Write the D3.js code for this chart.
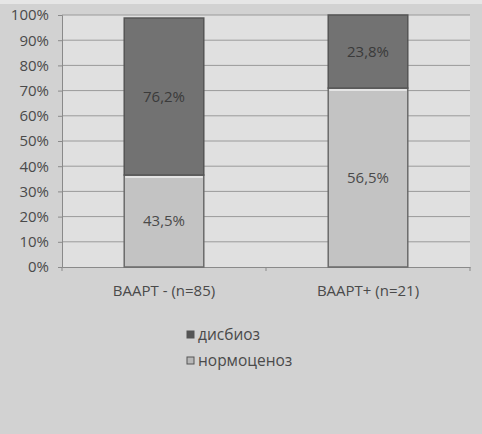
<!DOCTYPE html>
<html lang="ru">
<head>
<meta charset="UTF-8">
<title>ВААРТ</title>
<style>
  body { margin: 0; background: #d2d2d2; }
  svg text { font-family: "Open Sans", "DejaVu Sans", sans-serif; }
</style>
</head>
<body>
<div class="chart"></div>
<script src="https://cdnjs.cloudflare.com/ajax/libs/d3/7.8.5/d3.min.js"></script>
<script>
  // data (bar heights as drawn, labels as printed)
  const categories = ['ВААРТ - (n=85)', 'ВААРТ+ (n=21)'];
  const normValues = [36.5, 71];
  const dysValues = [62.3, 29];
  const normLabels = ['43,5%', '56,5%'];
  const dysLabels = ['76,2%', '23,8%'];
  const yTicks = [0, 10, 20, 30, 40, 50, 60, 70, 80, 90, 100];
  const seriesNames = ['дисбиоз', 'нормоценоз'];

  const W = 482, H = 434;
  const m = {top: 15, left: 62, right: 12, bottom: 167};
  const iw = W - m.left - m.right, ih = H - m.top - m.bottom;

  const svg = d3.select('.chart').append('svg')
    .attr('width', W).attr('height', H);

  svg.append('rect').attr('width', W).attr('height', H).attr('fill', '#d2d2d2');
  svg.append('rect').attr('width', W).attr('height', 4).attr('fill', '#e6e6e6');

  const g = svg.append('g').attr('transform', `translate(${m.left},${m.top})`);

  const x = d3.scaleBand().domain(categories).range([0, iw]).paddingInner(0.61).paddingOuter(0.305);
  const y = d3.scaleLinear().domain([0, 100]).range([ih, 0]);

  g.append('rect').attr('width', iw).attr('height', ih).attr('fill', '#e0e0e0');

  // gridlines
  g.selectAll('.grid').data(yTicks.slice(1)).join('line')
    .attr('x1', 0).attr('x2', iw)
    .attr('y1', d => y(d)).attr('y2', d => y(d))
    .attr('stroke', '#9a9a9a').attr('stroke-width', 1);

  // y axis
  const yAxis = g.append('g').call(d3.axisLeft(y).tickValues(yTicks).tickFormat(d => d + '%').tickSize(4).tickPadding(9));
  yAxis.select('.domain').attr('stroke', '#8a8a8a');
  yAxis.selectAll('line').attr('stroke', '#8a8a8a');
  yAxis.selectAll('text').attr('fill', '#4a4a4a').style('font-size', '15px');

  // x axis
  const xAxis = g.append('g').attr('transform', `translate(0,${ih})`)
    .call(d3.axisBottom(x).tickSize(0).tickPadding(18));
  xAxis.select('.domain').attr('stroke', '#8a8a8a');
  xAxis.selectAll('text').attr('fill', '#4a4a4a').style('font-size', '15px');
  const bounds = [0, iw / 2, iw];
  g.selectAll('.xt').data(bounds).join('line')
    .attr('x1', d => d).attr('x2', d => d)
    .attr('y1', ih).attr('y2', ih + 4)
    .attr('stroke', '#8a8a8a');

  // bars
  const bw = x.bandwidth();
  g.selectAll('.norm').data(categories).join('rect')
    .attr('x', d => x(d)).attr('width', bw)
    .attr('y', (d, i) => y(normValues[i]))
    .attr('height', (d, i) => y(0) - y(normValues[i]))
    .attr('fill', '#c3c3c3').attr('stroke', '#6a6a6a').attr('stroke-width', 1.5);

  g.selectAll('.dys').data(categories).join('rect')
    .attr('x', d => x(d)).attr('width', bw)
    .attr('y', (d, i) => y(normValues[i] + dysValues[i]))
    .attr('height', (d, i) => y(0) - y(dysValues[i]))
    .attr('fill', '#727272').attr('stroke', '#555').attr('stroke-width', 1.5);

  // highlight line at top of light segments
  g.selectAll('.hl').data(categories).join('line')
    .attr('x1', d => x(d) + 1).attr('x2', d => x(d) + bw - 1)
    .attr('y1', (d, i) => y(normValues[i]) + 2).attr('y2', (d, i) => y(normValues[i]) + 2)
    .attr('stroke', '#e4e4e4').attr('stroke-width', 2);

  // value labels
  g.selectAll('.nl').data(categories).join('text')
    .attr('x', d => x(d) + bw / 2)
    .attr('y', (d, i) => y(normValues[i] / 2) + 5)
    .attr('text-anchor', 'middle').attr('fill', '#4a4a4a').style('font-size', '15px')
    .text((d, i) => normLabels[i]);

  g.selectAll('.dl').data(categories).join('text')
    .attr('x', d => x(d) + bw / 2)
    .attr('y', (d, i) => y(normValues[i] + dysValues[i] / 2) + 5)
    .attr('text-anchor', 'middle').attr('fill', '#3a3a3a').style('font-size', '15px')
    .text((d, i) => dysLabels[i]);

  // legend
  const legendColors = ['#555', '#b8b8b8'];
  const lg = svg.append('g').attr('transform', 'translate(187,330)');
  seriesNames.forEach((s, i) => {
    const row = lg.append('g').attr('transform', `translate(0,${i * 26})`);
    row.append('rect').attr('width', 7).attr('height', 7).attr('y', 1)
      .attr('fill', legendColors[i]).attr('stroke', '#555');
    row.append('text').attr('x', 11).attr('y', 10)
      .attr('fill', '#4a4a4a').style('font-size', '15.5px').text(s);
  });
</script>
</body>
</html>
